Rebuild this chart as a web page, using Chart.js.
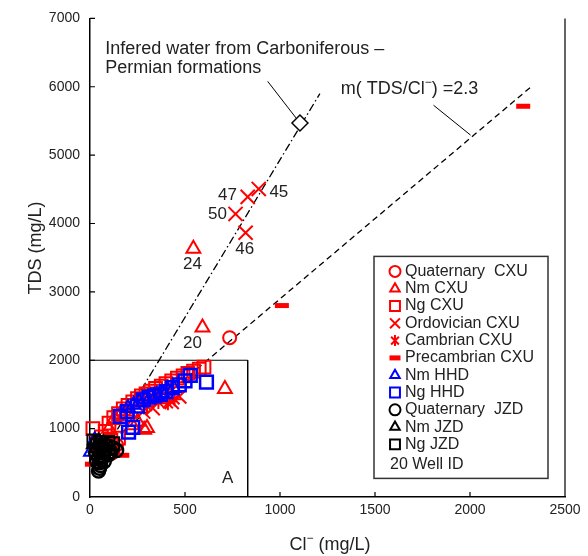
<!DOCTYPE html>
<html>
<head>
<meta charset="utf-8">
<script src="https://cdn.jsdelivr.net/npm/chart.js@4.4.1/dist/chart.umd.min.js"></script>
<style>
  body { margin: 0; background: #fff; }
  canvas { display: block; }
</style>
</head>
<body>
<canvas id="chart" width="588" height="556"></canvas>
<script>
// Cl- (mg/L) vs TDS (mg/L)
const xTicks = [0, 500, 1000, 1500, 2000, 2500];
const yTicks = [0, 1000, 2000, 3000, 4000, 5000, 6000, 7000];

const seriesNames = ['Quaternary  CXU', 'Nm CXU', 'Ng CXU', 'Ordovician CXU', 'Cambrian CXU',
  'Precambrian CXU', 'Nm HHD', 'Ng HHD', 'Quaternary  JZD', 'Nm JZD', 'Ng JZD'];

const quaternaryCXU = [[735, 2330], [120, 650], [95, 700], [140, 760]];
const nmCXU = [[592, 2480], [544, 3630], [710, 1580], [300, 1010], [285, 985], [222, 1050],
  [130, 1150], [160, 1210], [195, 1250], [250, 1100], [100, 1000]];
const ngCXU = [[15, 1000], [600, 1900], [575, 1870], [545, 1840], [515, 1810], [490, 1770],
  [460, 1740], [430, 1700], [400, 1660], [375, 1620], [345, 1590], [320, 1550], [295, 1510],
  [270, 1480], [250, 1440], [225, 1390], [200, 1340], [175, 1290], [150, 1220], [125, 1160],
  [100, 1080], [80, 960], [60, 880], [110, 830], [150, 860], [40, 780]];
const ordovicianCXU = [[888, 4505], [830, 4390], [766, 4140], [819, 3865], [330, 1300],
  [430, 1390], [470, 1470], [280, 1250]];
const cambrianCXU = [[410, 1370], [445, 1430], [360, 1390], [300, 1330]];
const precambrianCXU = [[2280, 5715], [1010, 2800], [170, 610], [10, 480]];
const nmHHD = [[5, 660], [25, 830], [260, 1390], [290, 1430], [320, 1470], [350, 1490],
  [380, 1520], [410, 1560], [440, 1590], [230, 1350], [200, 1300]];
const ngHHD = [[613, 1680], [528, 1780], [433, 1600], [196, 1250], [203, 950], [225, 1020],
  [250, 1330], [280, 1420], [310, 1460], [340, 1480], [370, 1500], [400, 1540], [470, 1640],
  [500, 1700], [160, 1180]];
const quaternaryJZD = [[45, 380], [50, 420], [55, 460], [50, 500], [60, 540], [45, 580],
  [70, 600], [65, 650], [80, 690], [100, 620], [110, 660], [40, 700], [55, 740], [85, 760],
  [30, 640], [120, 720], [140, 680], [75, 520], [35, 520]];
const nmJZD = [[20, 770], [45, 810], [70, 790], [30, 720]];
const ngJZD = [[20, 820], [55, 800], [95, 800], [120, 780], [40, 760], [80, 740]];

// inferred Carboniferous-Permian water and the two reference lines
const inferredWater = [[1105, 5470]];
const ratioLine = [[0, 550], [2330, 6020]];
const mixingLine = [[60, 600], [1210, 5900]];
const boxA = [[0, 2000], [830, 2000], [830, 0]];
const leaderInferred = [[935, 6080], [1105, 5470]];
const leaderRatio = [[1808, 5730], [2003, 5293]];

const wellIds = ['45', '47', '50', '46', '24', '20'];
const wellLabelAt = [[994, 4461], [724, 4418], [671, 4141], [814, 3616], [539, 3397], [539, 2245]];

const FONT = '"Liberation Sans", Arial, Helvetica, sans-serif';
const RED = '#ff0000', BLUE = '#0000ff', BLACK = '#000000';

const pt = arr => arr.map(([x, y]) => ({ x, y }));

function series(label, arr, style, color, radius, width, order) {
  return {
    label, data: pt(arr), pointStyle: style, pointRadius: radius, pointHoverRadius: radius,
    pointBorderColor: color, pointBackgroundColor: 'rgba(0,0,0,0)', pointBorderWidth: width,
    showLine: false, order, clip: false, legendKey: true
  };
}

function lineSet(arr, dash, width) {
  return {
    data: pt(arr), showLine: true, borderColor: BLACK, borderWidth: width, borderDash: dash,
    pointRadius: 0, order: 6, fill: false
  };
}

const datasets = [
  series(seriesNames[0], quaternaryCXU, 'circle', RED, 6.5, 2, 2),
  series(seriesNames[1], nmCXU, 'triangle', RED, 8, 2, 2),
  series(seriesNames[2], ngCXU, 'rect', RED, 9, 2, 2),
  series(seriesNames[3], ordovicianCXU, 'crossRot', RED, 10, 2, 2),
  series(seriesNames[4], cambrianCXU, 'star', RED, 7, 2, 2),
  series(seriesNames[5], precambrianCXU, 'line', RED, 7, 5, 2),
  series(seriesNames[6], nmHHD, 'triangle', BLUE, 8, 2, 1),
  series(seriesNames[7], ngHHD, 'rect', BLUE, 9, 2.5, 1),
  series(seriesNames[8], quaternaryJZD, 'circle', BLACK, 6.5, 2.5, 0),
  series(seriesNames[9], nmJZD, 'triangle', BLACK, 8, 2, 0),
  series(seriesNames[10], ngJZD, 'rect', BLACK, 9, 2, 0),
  lineSet(ratioLine, [6, 4], 1.3),
  lineSet(mixingLine, [8, 3, 1.5, 3], 1.3),
  lineSet(boxA, [], 1),
  lineSet(leaderInferred, [], 1),
  lineSet(leaderRatio, [], 1),
  { data: pt(inferredWater), pointStyle: 'rectRot', pointRadius: 8, pointBorderColor: BLACK,
    pointBackgroundColor: '#fff', pointBorderWidth: 1.5, showLine: false, order: 0 }
];

function drawMarker(ctx, style, x, y, r, color, lw) {
  ctx.save();
  ctx.strokeStyle = color;
  ctx.lineWidth = lw;
  ctx.beginPath();
  if (style === 'circle') {
    ctx.arc(x, y, r, 0, Math.PI * 2);
  } else if (style === 'triangle') {
    for (let i = 0; i < 3; i++) {
      const a = i * 2 * Math.PI / 3;
      const px = x + Math.sin(a) * r, py = y - Math.cos(a) * r;
      i ? ctx.lineTo(px, py) : ctx.moveTo(px, py);
    }
    ctx.closePath();
  } else if (style === 'rect') {
    const s = r * Math.SQRT1_2;
    ctx.rect(x - s, y - s, 2 * s, 2 * s);
  } else if (style === 'crossRot' || style === 'star') {
    const s = r * Math.SQRT1_2;
    ctx.moveTo(x - s, y - s); ctx.lineTo(x + s, y + s);
    ctx.moveTo(x - s, y + s); ctx.lineTo(x + s, y - s);
    if (style === 'star') { ctx.moveTo(x, y - r); ctx.lineTo(x, y + r); }
  } else if (style === 'line') {
    ctx.moveTo(x - r, y); ctx.lineTo(x + r, y);
  }
  ctx.stroke();
  ctx.restore();
}

// text with a superscript minus
function drawSupText(ctx, parts, x, y, size, align) {
  const big = size + 'px ' + FONT, small = Math.round(size * 0.65) + 'px ' + FONT;
  let total = 0;
  parts.forEach(p => { ctx.font = p.sup ? small : big; total += ctx.measureText(p.t).width; });
  let cx = align === 'center' ? x - total / 2 : x;
  ctx.textAlign = 'left';
  ctx.textBaseline = 'middle';
  parts.forEach(p => {
    ctx.font = p.sup ? small : big;
    ctx.fillText(p.t, cx, p.sup ? y - size * 0.35 : y);
    cx += ctx.measureText(p.t).width;
  });
}

const decorations = {
  id: 'decorations',
  afterDatasetsDraw(chart) {
    const { ctx, chartArea: a, scales: { x, y } } = chart;
    ctx.save();
    ctx.strokeStyle = BLACK;
    ctx.lineWidth = 1.2;
    // right frame and inner ticks
    ctx.beginPath();
    ctx.moveTo(a.right, a.top); ctx.lineTo(a.right, a.bottom);
    xTicks.slice(1, -1).forEach(v => { const px = x.getPixelForValue(v); ctx.moveTo(px, a.bottom); ctx.lineTo(px, a.bottom - 5); });
    yTicks.slice(1).forEach(v => { const py = y.getPixelForValue(v); ctx.moveTo(a.left, py); ctx.lineTo(a.left + 5, py); });
    ctx.stroke();

    ctx.fillStyle = '#222';
    // annotations
    ctx.font = '18px ' + FONT;
    ctx.textAlign = 'left';
    ctx.textBaseline = 'middle';
    ctx.fillText('Infered water from Carboniferous \u2013', x.getPixelForValue(80), y.getPixelForValue(6545));
    ctx.fillText('Permian formations', x.getPixelForValue(80), y.getPixelForValue(6270));
    drawSupText(ctx, [{ t: 'm( TDS/Cl' }, { t: '\u2212', sup: true }, { t: ') =2.3' }],
      x.getPixelForValue(1320), y.getPixelForValue(5970), 18, 'left');
    ctx.font = '17px ' + FONT;
    ctx.textAlign = 'center';
    ctx.fillText('A', x.getPixelForValue(724), y.getPixelForValue(277));
    wellIds.forEach((id, i) => {
      ctx.fillText(id, x.getPixelForValue(wellLabelAt[i][0]), y.getPixelForValue(wellLabelAt[i][1]));
    });

    // legend box
    const lx = a.right - 191, ly = a.top + 238, lw = 174, lh = 222;
    ctx.fillStyle = '#fff';
    ctx.fillRect(lx, ly, lw, lh);
    ctx.strokeStyle = '#333';
    ctx.lineWidth = 1.5;
    ctx.strokeRect(lx, ly, lw, lh);
    ctx.fillStyle = '#222';
    ctx.font = '16px ' + FONT;
    ctx.textAlign = 'left';
    const keyed = chart.data.datasets.filter(d => d.legendKey);
    keyed.forEach((d, i) => {
      const ry = ly + 15 + i * 17.3;
      const r = d.pointStyle === 'rect' || d.pointStyle === 'crossRot' ? 7 : 5.5;
      drawMarker(ctx, d.pointStyle, lx + 21, ry, r, d.pointBorderColor, d.pointStyle === 'line' ? 5 : 2);
      ctx.fillText(d.label, lx + 31, ry);
    });
    ctx.fillText('20 Well ID', lx + 16, ly + 208);

    // axis titles
    drawSupText(ctx, [{ t: 'Cl' }, { t: '\u2212', sup: true }, { t: ' (mg/L)' }], 330, 545, 18, 'center');
    ctx.save();
    ctx.translate(36, 248);
    ctx.rotate(-Math.PI / 2);
    ctx.font = '18px ' + FONT;
    ctx.textAlign = 'center';
    ctx.fillText('TDS (mg/L)', 0, 0);
    ctx.restore();
    ctx.restore();
  }
};

const tickFont = { size: 14, family: FONT };

new Chart(document.getElementById('chart'), {
  type: 'scatter',
  data: { datasets },
  options: {
    responsive: false,
    animation: false,
    layout: { padding: { left: 0, right: 23, top: 17, bottom: 0 } },
    plugins: { legend: { display: false }, tooltip: { enabled: false } },
    scales: {
      x: {
        type: 'linear', min: xTicks[0], max: xTicks[xTicks.length - 1],
        ticks: { stepSize: xTicks[1] - xTicks[0], color: '#222', font: tickFont, padding: 5, maxRotation: 0,
          callback: v => String(v) },
        grid: { display: false, drawTicks: false },
        border: { display: true, color: BLACK, width: 1.5 },
        afterFit: s => { s.height = 59; }
      },
      y: {
        type: 'linear', min: yTicks[0], max: yTicks[yTicks.length - 1],
        ticks: { stepSize: yTicks[1] - yTicks[0], color: '#222', font: tickFont, padding: 10,
          callback: v => String(v) },
        grid: { display: false, drawTicks: false },
        border: { display: true, color: BLACK, width: 1.5 },
        afterFit: s => { s.width = 90; }
      }
    }
  },
  plugins: [decorations]
});
</script>
</body>
</html>
